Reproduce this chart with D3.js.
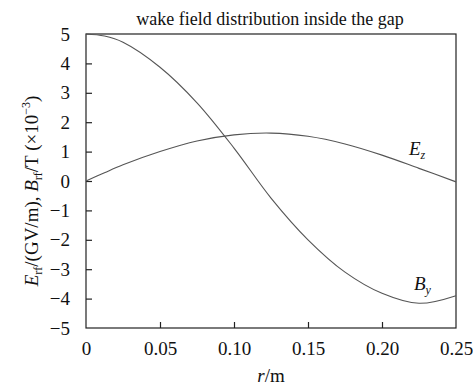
<!DOCTYPE html>
<html><head><meta charset="utf-8">
<script src="https://cdn.jsdelivr.net/npm/d3@7"></script>
<style>body{margin:0;background:#fff}svg{display:block}text{font-family:"Liberation Serif","Times New Roman",serif;fill:#111}</style>
</head><body><svg id="c" width="473" height="386"></svg>
<script>
const rValues = [0, 0.0125, 0.025, 0.05, 0.075, 0.10, 0.125, 0.15, 0.175, 0.20, 0.225, 0.25];
const ezValues = [0, 0.28, 0.55, 1.00, 1.36, 1.57, 1.63, 1.52, 1.26, 0.88, 0.43, -0.03];
const byValues = [5.00, 4.93, 4.72, 3.87, 2.66, 1.12, -0.58, -2.00, -3.10, -3.82, -4.16, -3.90];
const xTicks = [0, 0.05, 0.10, 0.15, 0.20, 0.25];
const xTickLabels = ["0", "0.05", "0.10", "0.15", "0.20", "0.25"];
const yTicks = [-5,-4,-3,-2,-1,0,1,2,3,4,5];

const svg = d3.select("#c");
const L=86, R=456, T=34, B=328;
const x = d3.scaleLinear().domain([0,0.25]).range([L,R]);
const y = d3.scaleLinear().domain([-5,5]).range([B,T]);
const axisColor="#222";

svg.append("text").attr("x",270).attr("y",25).attr("text-anchor","middle").attr("font-size",18).text("wake field distribution inside the gap");

svg.append("rect").attr("x",L).attr("y",T).attr("width",R-L).attr("height",B-T).attr("fill","none").attr("stroke",axisColor).attr("stroke-width",1.2);

const xa = svg.append("g").attr("transform",`translate(0,${B})`)
  .call(d3.axisBottom(x).tickValues(xTicks).tickSizeInner(-6).tickSizeOuter(0).tickPadding(14).tickFormat((d,i)=>xTickLabels[i]));
xa.select(".domain").remove();
xa.selectAll("line").attr("stroke",axisColor).attr("stroke-width",1.2);
xa.selectAll("text").attr("font-size",19).attr("font-family","Liberation Serif").attr("fill","#111").attr("dy","0.71em");
xa.selectAll(".tick").filter(d=>d===0||d===0.25).select("line").remove();

const ya = svg.append("g").attr("transform",`translate(${L},0)`)
  .call(d3.axisLeft(y).tickValues(yTicks).tickSizeInner(-6).tickSizeOuter(0).tickPadding(16).tickFormat(d=>d<0?"\u2212"+Math.abs(d):String(d)));
ya.select(".domain").remove();
ya.selectAll("line").attr("stroke",axisColor).attr("stroke-width",1.2);
ya.selectAll("text").attr("font-size",19).attr("font-family","Liberation Serif").attr("fill","#111");
ya.selectAll(".tick").filter(d=>d===5||d===-5).select("line").remove();

const line = d3.line().x(d=>x(d[0])).y(d=>y(d[1])).curve(d3.curveCatmullRom.alpha(0.5));
svg.append("path").datum(rValues.map((r,i)=>[r,ezValues[i]])).attr("d",line).attr("fill","none").attr("stroke","#555").attr("stroke-width",1.1);
svg.append("path").datum(rValues.map((r,i)=>[r,byValues[i]])).attr("d",line).attr("fill","none").attr("stroke","#555").attr("stroke-width",1.1);

const ez = svg.append("text").attr("x",409).attr("y",155).attr("font-size",19).attr("font-style","italic");
ez.append("tspan").text("E");
ez.append("tspan").attr("font-size",12).attr("dy",4).text("z");
const by = svg.append("text").attr("x",414).attr("y",290).attr("font-size",19).attr("font-style","italic");
by.append("tspan").text("B");
by.append("tspan").attr("font-size",12).attr("dy",4).text("y");

const xl = svg.append("text").attr("x",271).attr("y",382).attr("text-anchor","middle").attr("font-size",19);
xl.append("tspan").attr("font-style","italic").text("r");
xl.append("tspan").text("/m");

const yl = svg.append("text").attr("transform","translate(38,191) rotate(-90)").attr("text-anchor","middle").attr("font-size",19);
yl.append("tspan").attr("font-style","italic").text("E");
yl.append("tspan").attr("font-size",12).attr("dy",4).text("rf");
yl.append("tspan").attr("dy",-4).text("/(GV/m), ");
yl.append("tspan").attr("font-style","italic").text("B");
yl.append("tspan").attr("font-size",12).attr("dy",4).text("rf");
yl.append("tspan").attr("dy",-4).text("/T  (\u00d710");
yl.append("tspan").attr("font-size",12).attr("dy",-8).text("\u22123");
yl.append("tspan").attr("dy",8).text(")");
</script></body></html>
